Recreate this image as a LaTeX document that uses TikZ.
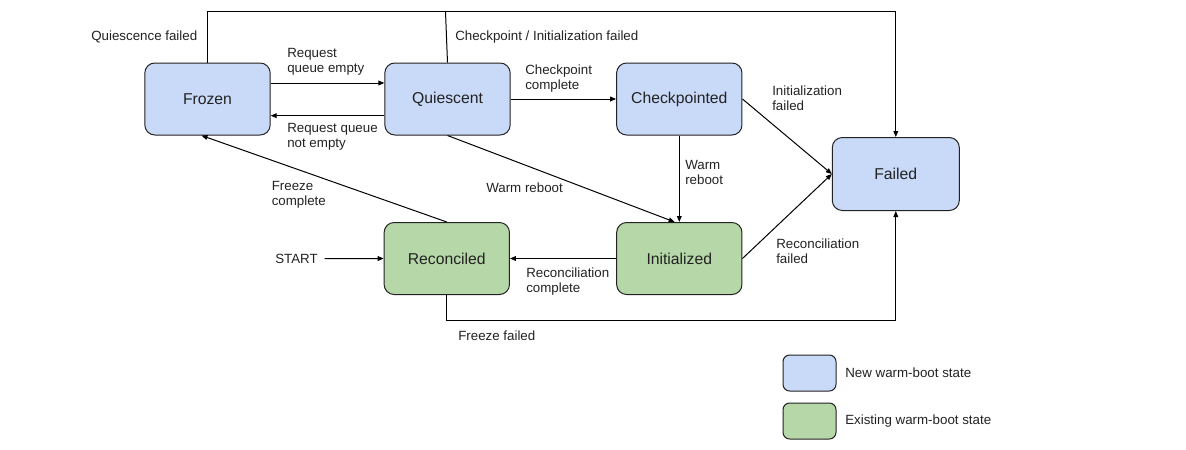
\documentclass[tikz,border=0pt]{standalone}
\usepackage{fontspec}
\setmainfont{Liberation Sans}
\usetikzlibrary{arrows.meta}
\definecolor{newblue}{HTML}{C9DAF8}
\definecolor{oldgreen}{HTML}{B6D7A8}
\definecolor{edge}{HTML}{222222}
\tikzset{
  statebox/.style={rectangle, rounded corners=7.5pt, draw=edge, line width=0.75pt,
    minimum width=94pt, minimum height=54pt, inner sep=0pt,
    font=\fontsize{11.8}{14}\selectfont, text=edge},
  newst/.style={statebox, fill=newblue},
  oldst/.style={statebox, fill=oldgreen},
  legbox/.style={rectangle, rounded corners=5pt, draw=edge, line width=0.75pt,
    minimum width=39.75pt, minimum height=27pt, inner sep=0pt},
  lbl/.style={anchor=north west, inner sep=0pt, align=left,
    font=\fontsize{10}{11.25}\selectfont, text=edge},
  conn/.style={draw=black, line width=0.75pt},
  arr/.style={conn, -{Triangle[length=4.5pt,width=3.6pt]}},
}
\begin{document}
\begin{tikzpicture}[x=0.75pt,y=-0.75pt]
\useasboundingbox (0,0) rectangle (1186,450);

% states
\node[newst] (frozen) at (207.5,99) {Frozen};
\node[newst] (quiescent) at (447.5,99) {Quiescent};
\node[newst] (checkpointed) at (679.3,99) {Checkpointed};
\node[newst, minimum width=95.25pt, minimum height=54.75pt] (failed) at (895.8,174) {Failed};
\node[oldst] (reconciled) at (446.8,258.5) {Reconciled};
\node[oldst] (initialized) at (679.3,258.5) {Initialized};

% helper coordinates
\coordinate (top) at (0,11.5);
\coordinate (qt) at (445.5,11.5);
\coordinate (bot) at (0,320);

% connectors
\draw[arr] ([yshift=12pt]frozen.east) -- ([yshift=12pt]quiescent.west);
\draw[arr] ([yshift=-12.5pt]quiescent.west) -- ([yshift=-12.5pt]frozen.east);
\draw[arr] (quiescent.east) -- (checkpointed.west);
\draw[arr] (frozen.north) -- (frozen.north |- top) -| (failed.north);
\draw[conn] (quiescent.north) -- (qt);
\draw[arr] (checkpointed.east) -- (failed.west);
\draw[arr] (checkpointed.south) -- (initialized.north);
\draw[arr] (quiescent.south) -- ([xshift=-3.5pt]initialized.north);
\draw[arr] (reconciled.north) -- ([xshift=-4.5pt]frozen.south);
\draw[arr] (initialized.west) -- (reconciled.east);
\draw[arr] (initialized.east) -- (failed.west);
\draw[arr] (reconciled.south) -- (reconciled.south |- bot) -| (failed.south);

% start
\node[anchor=base west, inner sep=0pt, font=\fontsize{10}{11.25}\selectfont, text=edge] (start) at (275,263.3) {START};
\draw[arr, shorten <=5pt] (start.east) -- (reconciled.west);

% labels
\node[lbl] (l1) at (287,48.5) {Request\\queue empty};
\node[lbl] (l2) at (287,123) {Request queue\\not empty};
\node[lbl] (l3) at (525,64.5) {Checkpoint\\complete};
\node[lbl] (l4) at (772,85.5) {Initialization\\failed};
\node[lbl] (l5) at (776,238.5) {Reconciliation\\failed};
\node[lbl] (l6) at (271.5,181) {Freeze\\complete};
\node[lbl] (l7) at (486,183) {Warm reboot};
\node[lbl] (l8) at (685,160.5) {Warm\\reboot};
\node[lbl] (l9) at (526,267.5) {Reconciliation\\complete};
\node[lbl] (l10) at (91,30.3) {Quiescence failed};
\node[lbl] (l11) at (455,30.3) {Checkpoint / Initialization failed};
\node[lbl] (l12) at (458,330.3) {Freeze failed};

% legend
\node[legbox, fill=newblue] (lgnew) at (809.5,373) {};
\node[legbox, fill=oldgreen] (lgold) at (809.5,421) {};
\node[lbl, anchor=west] (lgnewt) at (845,373) {New warm-boot state};
\node[lbl, anchor=west] (lgoldt) at (845,421) {Existing warm-boot state};
\end{tikzpicture}
\end{document}
